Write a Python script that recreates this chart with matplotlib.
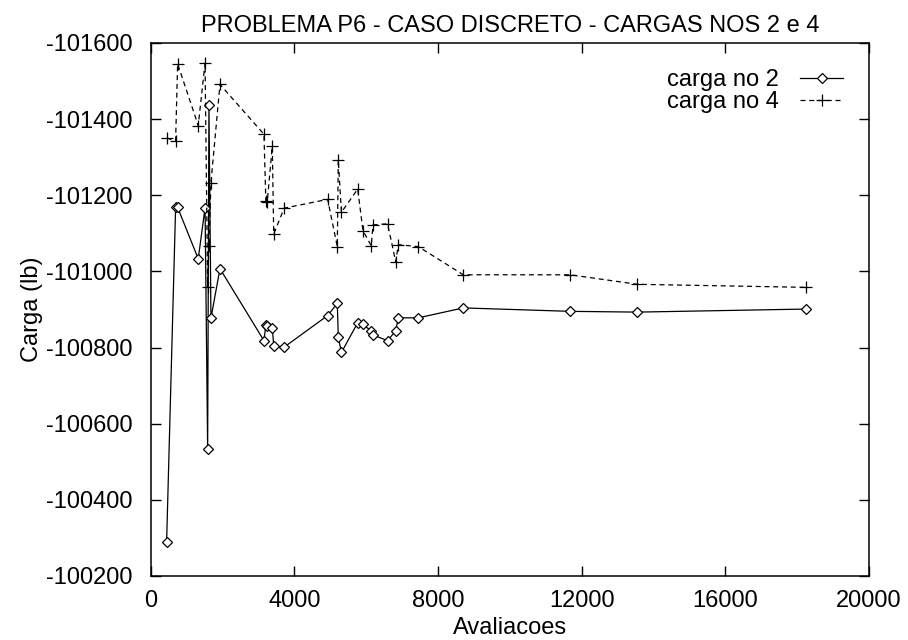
import matplotlib
matplotlib.use("Agg")
import matplotlib.pyplot as plt
import numpy as np

plt.rcParams['font.family'] = ['Liberation Sans', 'DejaVu Sans']

# Evaluations (x) and nodal loads for nodes 2 and 4
avaliacoes = [442, 693, 749, 1323, 1513, 1585, 1621, 1677, 1928, 3153, 3205, 3245,
              3385, 3425, 3715, 4927, 5195, 5223, 5310, 5763, 5910, 6140, 6190,
              6595, 6822, 6895, 7451, 8705, 11677, 13552, 18251]

carga_no2 = [-100288, -101168, -101168, -101033, -101167, -100534, -101437, -100877,
             -101007, -100818, -100859, -100857, -100852, -100804, -100801, -100884,
             -100916, -100828, -100787, -100865, -100861, -100843, -100833, -100818,
             -100844, -100878, -100878, -100904, -100895, -100893, -100901]

carga_no4 = [-101350, -101343, -101545, -101383, -101547, -100960, -101067, -101233,
             -101491, -101360, -101186, -101183, -101328, -101098, -101166, -101189,
             -101065, -101293, -101155, -101216, -101107, -101067, -101122, -101125,
             -101025, -101070, -101065, -100991, -100991, -100966, -100958]

xticks = [0, 4000, 8000, 12000, 16000, 20000]
yticks = [-101600, -101400, -101200, -101000, -100800, -100600, -100400, -100200]

fig = plt.figure(figsize=(9.08, 6.40), dpi=100)
ax = fig.add_axes([0.166, 0.1, 0.791, 0.833])

ax.plot(avaliacoes, carga_no2, color='black', linewidth=0.9, linestyle='-',
        marker='D', markersize=5, markerfacecolor='white', markeredgecolor='black',
        markeredgewidth=0.9, label='carga no 2')
ax.plot(avaliacoes, carga_no4, color='black', linewidth=0.9, linestyle=(0, (4, 3)),
        marker='+', markersize=9, markeredgewidth=0.9, label='carga no 4')

ax.set_xlim(0, 20000)
ax.set_ylim(-100200, -101600)
ax.set_xticks(xticks)
ax.set_yticks(yticks)
ax.set_xticklabels([str(t) for t in xticks])
ax.set_yticklabels([str(t) for t in yticks])

ax.tick_params(axis='both', which='both', direction='in', length=7, width=1,
               top=True, right=True, labelsize=17)
ax.tick_params(axis='x', pad=10)
ax.tick_params(axis='y', pad=13)
for s in ax.spines.values():
    s.set_linewidth(1.1)

ax.set_title('PROBLEMA P6 - CASO DISCRETO - CARGAS NOS 2 e 4', fontsize=17, pad=8)
ax.set_xlabel('Avaliacoes', fontsize=17, labelpad=4)
ax.set_ylabel('Carga (lb)', fontsize=17, labelpad=2)

ax.legend(loc='upper right', frameon=False, fontsize=17, markerfirst=False,
          handlelength=1.8, handletextpad=0.9, borderaxespad=0.7, labelspacing=0.0)

fig.savefig('out.png', dpi=100)
